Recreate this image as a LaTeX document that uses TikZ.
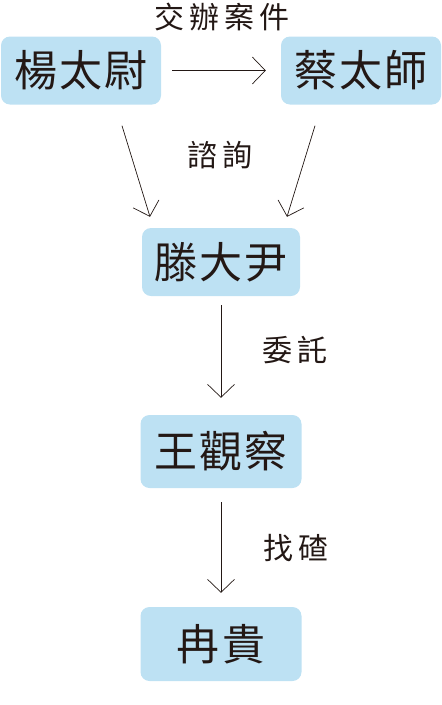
\documentclass[tikz,border=0pt]{standalone}
\usepackage{fontspec}
\usetikzlibrary{arrows.meta}
\newfontfamily\cjkbox[LetterSpace=5]{Noto Sans CJK TC}
\newfontfamily\cjklbl[LetterSpace=17]{Noto Sans CJK TC}
\definecolor{boxblue}{HTML}{BDE1F3}
\definecolor{inkdark}{HTML}{231815}
\tikzset{
  person/.style={fill=boxblue, rounded corners=9pt, minimum width=160pt, minimum height=68pt,
    text=inkdark, font=\cjkbox\fontsize{43}{43}\selectfont, inner sep=0pt},
  relation/.style={text=inkdark, font=\cjklbl\fontsize{30}{30}\selectfont, inner sep=0pt},
  link/.style={draw=inkdark, line width=0.7pt, -{Straight Barb[length=13pt,width=27pt,line width=0.7pt]}}
}
\begin{document}
\begin{tikzpicture}[x=1pt,y=-1pt]
      \useasboundingbox (0,0) rectangle (442,705);
      % people
      \node[person] (yang) at (81,70.5) {楊太尉};
      \node[person] (cai) at (361,70.5) {蔡太師};
      \node[person, minimum width=158pt] (teng) at (221,262) {滕大尹};
      \node[person, minimum width=161pt, minimum height=73pt] (wang) at (221,451.5) {王觀察};
      \node[person, minimum width=161pt, minimum height=74pt] (ran) at (221,644) {冉貴};
      % relations
      \node[relation] (jiaoban) at (222,17) {交辦案件};
      \node[relation] (zixun) at (220,155) {諮詢};
      \node[relation] (weituo) at (295,350) {委託};
      \node[relation] (zhaocha) at (296,548) {找碴};
      \draw[link] ([xshift=11pt]yang.east) -- ([xshift=-15pt]cai.west);
      \draw[link] ([shift={(41,21)}]yang.south) -- ([shift={(-71,-11)}]teng.north);
      \draw[link] ([shift={(-46,21)}]cai.south) -- ([shift={(66,-11)}]teng.north);
      \draw[link] ([yshift=-9pt]teng.south) -- ([yshift=17pt]wang.north);
      \draw[link] ([yshift=-14pt]wang.south) -- ([yshift=14pt]ran.north);
\end{tikzpicture}
\end{document}
